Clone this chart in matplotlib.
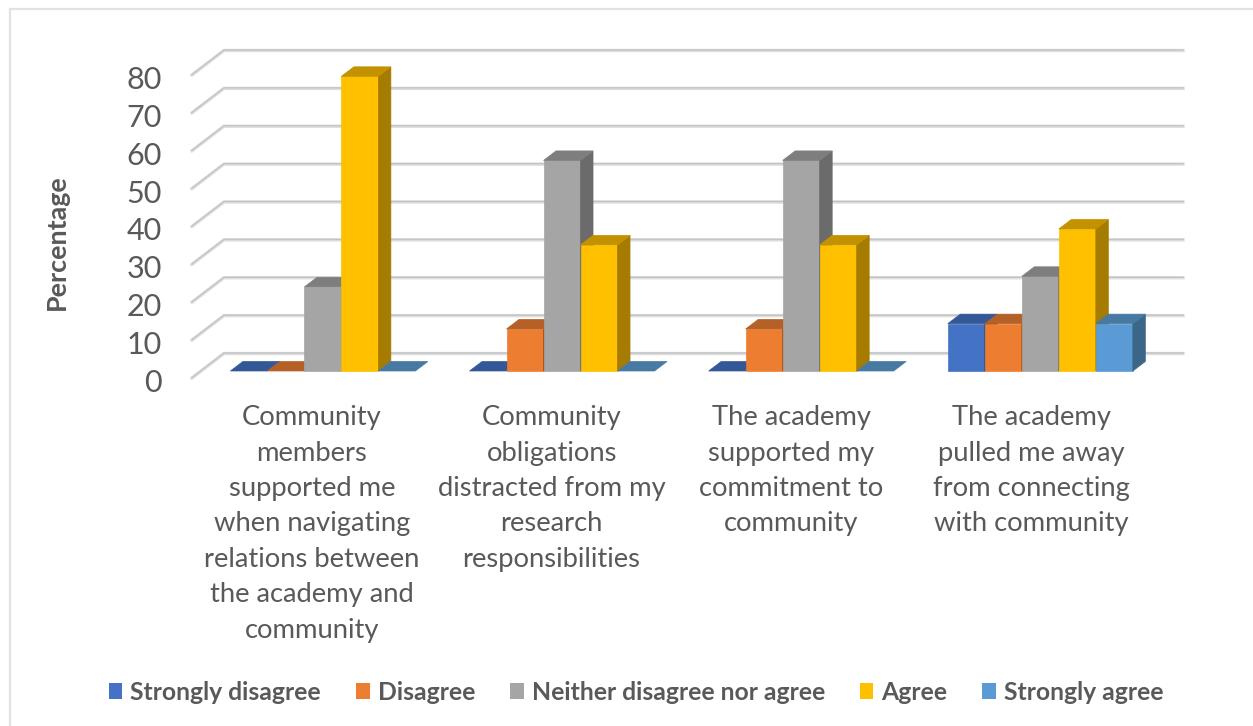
import matplotlib
matplotlib.use("Agg")
import matplotlib.pyplot as plt
from matplotlib.lines import Line2D
from matplotlib.patches import Polygon, Patch
from matplotlib.transforms import ScaledTranslation

categories = [
    "Community\nmembers\nsupported me\nwhen navigating\nrelations between\nthe academy and\ncommunity",
    "Community\nobligations\ndistracted from my\nresearch\nresponsibilities",
    "The academy\nsupported my\ncommitment to\ncommunity",
    "The academy\npulled me away\nfrom connecting\nwith community",
]
series_names = ["Strongly disagree", "Disagree", "Neither disagree nor agree", "Agree", "Strongly agree"]
strongly_disagree = [0, 0, 0, 12.5]
disagree = [0, 11.1, 11.1, 12.5]
neither = [22.2, 55.6, 55.6, 25]
agree = [77.8, 33.3, 33.3, 37.5]
strongly_agree = [0, 0, 0, 12.5]
series_values = [strongly_disagree, disagree, neither, agree, strongly_agree]

front_colors = ["#4472C4", "#ED7D31", "#A5A5A5", "#FFC000", "#5B9BD5"]
top_colors = ["#345797", "#B46026", "#7E7E7E", "#C39200", "#467AA3"]
side_colors = ["#2C4A80", "#9C5120", "#6B6B6B", "#A67C00", "#3B6688"]
y_ticks = list(range(0, 90, 10))
text_color = "#595959"

plt.rcParams["font.family"] = ["Lato", "DejaVu Sans"]

W, H = 1253, 726
fig = plt.figure(figsize=(W / 100, H / 100), dpi=100)
# axes box is the front plane of the 3D plot
left, right, bottom, top = 192, 1151, 378, 75
ax = fig.add_axes([left / W, 1 - bottom / H, (right - left) / W, (bottom - top) / H])
ax.set_xlim(0, 4)
ax.set_ylim(0, 80)
ax.patch.set_visible(False)
for s in ax.spines.values():
    s.set_visible(False)

# pixel sizes in data units
px = 4 / (right - left)
py = 80 / (bottom - top)
wall_dx, wall_dy = 32 * px, 24.5 * py
bar_dx, bar_dy = 12.5 * px, 9.5 * py
bar_w = 37 * px
floor_x, floor_y = 7 * px, 7 * py

# gridlines: back wall plus the diagonal on the side wall, two tones for the soft edge
for t in y_ticks:
    xs = [0, wall_dx, 4 + wall_dx]
    ys = [t, t + wall_dy, t + wall_dy]
    ax.plot(xs, ys, color="#DEDEDE", lw=2.4, clip_on=False, zorder=1, solid_joinstyle="miter")
    ax.plot(xs, [y + 0.5 * py for y in ys], color="#C4C4C4", lw=1.0, clip_on=False, zorder=1.1,
            solid_joinstyle="miter")

n = len(series_values)
for c in range(len(categories)):
    x0 = c + 0.5 - n * bar_w / 2 + floor_x + 4 * px - c * 0.6 * px
    for i, vals in enumerate(series_values):
        v = vals[c]
        x = x0 + i * bar_w
        y = floor_y
        z = 2 + i * 0.1
        if v > 0:
            ax.add_patch(Polygon([(x, y), (x + bar_w, y), (x + bar_w, y + v), (x, y + v)],
                                 facecolor=front_colors[i], edgecolor=front_colors[i], lw=0.5, zorder=z, clip_on=False))
            ax.add_patch(Polygon([(x + bar_w, y), (x + bar_w + bar_dx, y + bar_dy),
                                  (x + bar_w + bar_dx, y + v + bar_dy), (x + bar_w, y + v)],
                                 facecolor=side_colors[i], edgecolor=side_colors[i], lw=0.5, zorder=z, clip_on=False))
        ax.add_patch(Polygon([(x, y + v), (x + bar_w, y + v),
                              (x + bar_w + bar_dx, y + v + bar_dy), (x + bar_dx, y + v + bar_dy)],
                             facecolor=top_colors[i], edgecolor=top_colors[i], lw=0.5, zorder=z, clip_on=False))

ax.set_yticks(y_ticks)
ax.set_xticks([c + 0.5 for c in range(len(categories))])
ax.set_xticklabels(categories, fontsize=19.7, color=text_color, linespacing=1.523, ha="center", va="top")
ax.tick_params(axis="y", length=0, pad=21.6, labelsize=22, labelcolor=text_color)
ax.tick_params(axis="x", length=0, pad=19.5)
# nudge value labels down a little
nudge = ScaledTranslation(0, -1.8 / 72, fig.dpi_scale_trans)
for lab in ax.get_yticklabels():
    lab.set_transform(lab.get_transform() + nudge)
ax.set_ylabel("Percentage", fontsize=19.4, fontweight="bold", color=text_color)
ax.yaxis.set_label_coords((69 - left) / (right - left), (bottom - 242) / (bottom - top))

handles = [Patch(facecolor=col, edgecolor="none") for col in front_colors]
fig.legend(handles, series_names, loc="center", bbox_to_anchor=(636 / W, 1 - 692 / H), ncol=5,
           frameon=False, handlelength=0.56, handleheight=0.6, handletextpad=0.32, columnspacing=1.41,
           prop={"size": 17.8, "weight": "bold"}, labelcolor=text_color)

# chart outline, only its top and left edges fall inside the canvas
fig.add_artist(Line2D([10 / W, 10 / W, 1], [0, 1 - 9 / H, 1 - 9 / H], transform=fig.transFigure,
                      color="#E2E2E2", lw=1.6, solid_joinstyle="miter"))

fig.savefig("out.png", dpi=100)
